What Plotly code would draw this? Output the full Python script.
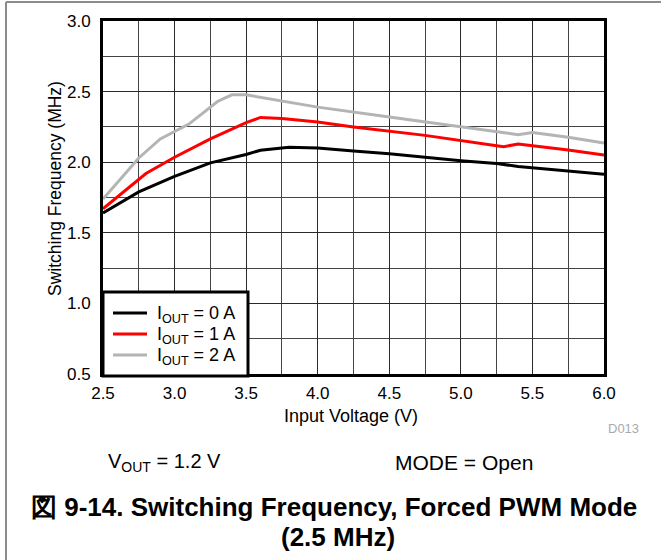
import plotly.graph_objects as go

# Data
vin_0a = [2.5, 2.75, 3.0, 3.25, 3.5, 3.6, 3.8, 4.0, 4.25, 4.5, 5.0, 5.25, 5.4, 5.75, 6.0]
fsw_0a = [1.64, 1.79, 1.9, 1.995, 2.055, 2.085, 2.105, 2.10, 2.08, 2.06, 2.01, 1.99, 1.97, 1.935, 1.915]

vin_1a = [2.5, 2.8, 3.0, 3.25, 3.5, 3.6, 3.75, 4.0, 4.25, 4.75, 5.25, 5.3, 5.4, 5.75, 6.0]
fsw_1a = [1.67, 1.92, 2.035, 2.165, 2.28, 2.317, 2.31, 2.285, 2.25, 2.19, 2.117, 2.11, 2.129, 2.087, 2.05]

vin_2a = [2.5, 2.75, 2.9, 3.1, 3.3, 3.4, 3.5, 3.75, 4.0, 4.5, 5.0, 5.4, 5.5, 5.75, 6.0]
fsw_2a = [1.74, 2.03, 2.165, 2.27, 2.43, 2.477, 2.477, 2.435, 2.39, 2.32, 2.25, 2.195, 2.21, 2.176, 2.136]

series_names = ["I<sub>OUT</sub> = 0 A", "I<sub>OUT</sub> = 1 A", "I<sub>OUT</sub> = 2 A"]
series_colors = ["#000000", "#ff0000", "#b4b4b4"]

FONT = "Liberation Sans, Arial, Helvetica, sans-serif"

fig = go.Figure()
for xs, ys, name, col in zip([vin_0a, vin_1a, vin_2a], [fsw_0a, fsw_1a, fsw_2a], series_names, series_colors):
    fig.add_trace(go.Scatter(x=xs, y=ys, mode="lines", name=name, showlegend=False,
                             line=dict(color=col, width=3)))

axis_common = dict(
    showline=True, linecolor="black", linewidth=3, mirror=True,
    showgrid=True, gridcolor="#2a2a2a", gridwidth=1,
    ticks="", tickformat=".1f", zeroline=False,
    tickfont=dict(family=FONT, size=17, color="black"),
)

fig.update_xaxes(range=[2.5, 6.0], dtick=0.5, tick0=2.5, ticklabelstandoff=2,
                 minor=dict(dtick=0.25, showgrid=True, gridcolor="#444444", gridwidth=1),
                 **axis_common)
fig.update_yaxes(range=[0.5, 3.0], dtick=0.5, tick0=0.5, ticklabelstandoff=6,
                 minor=dict(dtick=0.25, showgrid=True, gridcolor="#444444", gridwidth=1),
                 **axis_common)

L, R, T, B = 103, 604, 21, 374
W, H = 661, 560
def px(x):
    return (x - L) / (R - L)
def py(y):
    return (B - y) / (B - T)

fig.update_layout(
    width=W, height=H,
    margin=dict(l=L, r=W - R, t=T, b=H - B, autoexpand=False),
    plot_bgcolor="white", paper_bgcolor="white",
    font=dict(family=FONT, color="black"),
    showlegend=False,
)

annots = [
    dict(text="Input Voltage (V)", x=px(351), y=py(416), font=dict(size=18, color="black"), angle=0),
    dict(text="Switching Frequency (MHz)", x=px(55), y=py(189), font=dict(size=17.5, color="black"), angle=-90),
    dict(text="D013", x=px(623), y=py(428), font=dict(size=13, color="#aaaaaa"), angle=0),
    dict(text="V<sub>OUT</sub> = 1.2 V", x=px(164), y=py(462), font=dict(size=20, color="black"), angle=0),
    dict(text="MODE = Open", x=px(464), y=py(462), font=dict(size=21, color="black"), angle=0),
    dict(text="<b>図 9-14. Switching Frequency, Forced PWM Mode</b>", x=px(334), y=py(507), font=dict(size=26, color="black"), angle=0),
    dict(text="<b>(2.5 MHz)</b>", x=px(338), y=py(537), font=dict(size=26, color="black"), angle=0),
]
for a in annots:
    fig.add_annotation(xref="paper", yref="paper", showarrow=False,
                       xanchor="center", yanchor="middle", textangle=a["angle"],
                       text=a["text"], x=a["x"], y=a["y"],
                       font=dict(family=FONT, **a["font"]))

# legend box drawn over the plot (bottom-left corner)
fig.add_shape(type="rect", xref="paper", yref="paper", layer="above",
              x0=px(103), x1=px(248), y0=py(376), y1=py(292),
              fillcolor="white", line=dict(color="black", width=3))
legend_rows = [313, 334, 355]
for name, col, ry in zip(series_names, series_colors, legend_rows):
    fig.add_shape(type="line", xref="paper", yref="paper", layer="above",
                  x0=px(113), x1=px(147), y0=py(ry), y1=py(ry),
                  line=dict(color=col, width=3))
    fig.add_annotation(xref="paper", yref="paper", showarrow=False,
                       xanchor="left", yanchor="middle", x=px(155), y=py(ry + 1),
                       text=name, font=dict(family=FONT, size=18, color="black"))

# outer frame (top and left edges)
fig.add_shape(type="line", xref="paper", yref="paper", x0=px(6), y0=py(2), x1=px(700), y1=py(2),
              line=dict(color="#8c8c8c", width=2))
fig.add_shape(type="line", xref="paper", yref="paper", x0=px(6), y0=py(2), x1=px(6), y1=py(600),
              line=dict(color="#8c8c8c", width=2))

fig.write_html("out.html", config={"displayModeBar": False},
               post_script="document.body.style.margin='0';document.body.style.overflow='hidden';")
